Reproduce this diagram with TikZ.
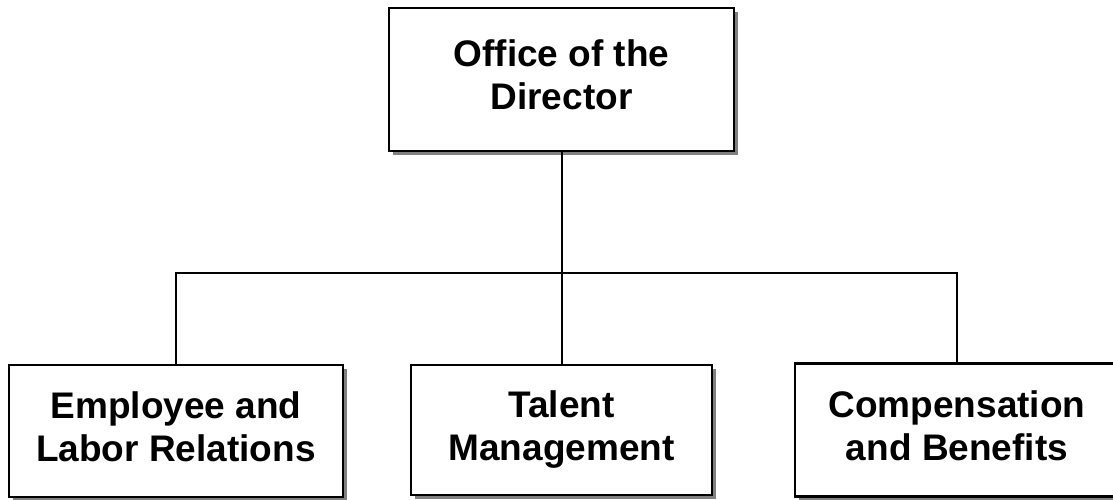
\documentclass[tikz,border=0pt]{standalone}
\usepackage{fontspec}
\setmainfont{Liberation Sans}
\usetikzlibrary{shadows}
\tikzstyle{unitbox}=[draw=black,line width=2.2pt,fill=white,inner sep=0pt,align=center,font=\bfseries\fontsize{37}{43}\selectfont,drop shadow={shadow xshift=4pt,shadow yshift=-4pt,fill=black!50,opacity=1}]
\tikzstyle{orgline}=[black,line width=2pt]
\newcommand{\unit}[5]{% Syntax: name (x,y) width height text
	\node[unitbox,minimum width=#3pt,minimum height=#4pt] (#1) at #2 {\strut #5\strut};
}
\begin{document}
\begin{tikzpicture}[x=1pt,y=-1pt]
  \useasboundingbox (0,0) rectangle (1113,499);
  \unit{dir}{(561.5,79.5)}{345}{143}{Office of the\\Director}
  \unit{elr}{(176,431)}{334}{132}{Employee and\\Labor Relations}
  \unit{tm}{(561.5,430)}{301}{130}{Talent\\Management}
  \unit{cb}{(957,430)}{324}{133}{Compensation\\and Benefits}
  \coordinate (bus) at (561.5,272.5);
  %connectors
  \draw[orgline] (dir.south) -- (bus);
  \draw[orgline] (elr.north) |- (bus) -| (cb.north);
  \draw[orgline] (bus) -- (tm.north);
\end{tikzpicture}
\end{document}
